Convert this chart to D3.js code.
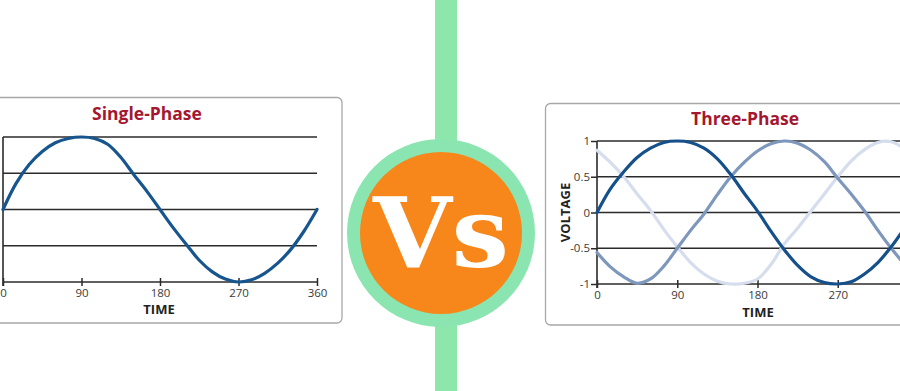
<!DOCTYPE html>
<html>
<head>
<meta charset="utf-8">
<script src="https://cdn.jsdelivr.net/npm/d3@7"></script>
<style>
  html, body { margin: 0; padding: 0; background: #fff; }
  svg { display: block; }
  text { font-family: 'Open Sans', 'Liberation Sans', sans-serif; }
</style>
</head>
<body>
<svg id="chart" width="900" height="391"></svg>
<script>
// Angle samples (degrees) shared by all waves
const angles = [0, 15, 30, 45, 60, 75, 90, 105, 120, 135, 150, 165, 180,
  195, 210, 225, 240, 255, 270, 285, 300, 315, 330, 345, 360];

// Single-phase wave
const singlePhase = [0, 0.36, 0.62, 0.8, 0.92, 0.98, 1, 0.98, 0.9, 0.72, 0.48, 0.25, 0,
  -0.25, -0.48, -0.7, -0.86, -0.96, -1, -0.97, -0.88, -0.74, -0.55, -0.3, 0];

// Three-phase waves
const phaseA = [0, 0.33, 0.57, 0.77, 0.9, 0.98, 1, 0.98, 0.9, 0.75, 0.53, 0.27, 0.02,
  -0.26, -0.52, -0.74, -0.9, -0.98, -1, -0.97, -0.86, -0.7, -0.48, -0.22, 0.03];
const phaseB = [-0.56, -0.76, -0.9, -0.99, -0.93, -0.75, -0.5, -0.25, -0.02, 0.25, 0.5, 0.7, 0.86,
  0.96, 1, 0.97, 0.87, 0.71, 0.48, 0.26, 0.02, -0.25, -0.5, -0.72, -0.87];
const phaseC = [0.87, 0.7, 0.5, 0.26, 0.03, -0.24, -0.48, -0.7, -0.86, -0.96, -1, -0.99, -0.93,
  -0.73, -0.44, -0.22, 0.02, 0.26, 0.5, 0.72, 0.88, 0.98, 0.99, 0.89, 0.72];

const singleTicks = [0, 90, 180, 270, 360];
const threeTicks = [0, 90, 180, 270];
const yTicks = [-1, -0.5, 0, 0.5, 1];
const yTickLabels = ['-1', '-0.5', '0', '0.5', '1'];

const svg = d3.select('#chart');

function drawPanel(opts) {
  const g = svg.append('g').attr('class', 'panel');

  g.append('rect')
    .attr('x', opts.box[0]).attr('y', opts.box[1])
    .attr('width', opts.box[2]).attr('height', opts.box[3])
    .attr('rx', 5)
    .style('fill', '#fff')
    .style('stroke', '#a8a8a8')
    .style('stroke-width', 1.3);

  const x = d3.scaleLinear().domain([0, 360]).range(opts.xRange);
  const y = d3.scaleLinear().domain([-1, 1]).range(opts.yRange);

  // title
  g.append('text')
    .attr('x', opts.titleX).attr('y', opts.titleY)
    .attr('text-anchor', 'middle')
    .style('font-size', '17.5px')
    .style('font-weight', 700)
    .style('fill', '#a5162f')
    .text(opts.title);

  // horizontal grid
  g.append('g').attr('class', 'grid')
    .selectAll('line')
    .data(yTicks)
    .join('line')
    .attr('x1', x(0)).attr('x2', opts.gridEnd)
    .attr('y1', d => y(d)).attr('y2', d => y(d))
    .style('stroke', '#2b2b2b')
    .style('stroke-width', 1.6);

  // y axis line
  g.append('line')
    .attr('x1', x(0)).attr('x2', x(0))
    .attr('y1', y(1)).attr('y2', y(-1) + 4)
    .style('stroke', '#2b2b2b')
    .style('stroke-width', 1.6);

  // x axis
  const xAxis = d3.axisBottom(x).tickValues(opts.xTicks).tickSize(4).tickPadding(3);
  const ax = g.append('g')
    .attr('transform', `translate(0, ${y(-1)})`)
    .call(xAxis);
  ax.select('.domain').remove();
  ax.selectAll('.tick line').attr('y1', -4).style('stroke', '#2b2b2b').style('stroke-width', 1.5);
  ax.selectAll('.tick text')
    .style('font-size', '11.5px')
    .style('fill', '#3a3a3a')
    .style('font-family', "'Open Sans', sans-serif");

  g.append('text')
    .attr('x', opts.timeX).attr('y', opts.timeY)
    .attr('text-anchor', 'middle')
    .style('font-size', '13px')
    .style('font-weight', 700)
    .style('fill', '#222')
    .text('TIME');

  if (opts.yLabels) {
    const yAxis = d3.axisLeft(y).tickValues(yTicks)
      .tickFormat((d, i) => yTickLabels[i]).tickSize(6).tickPadding(1);
    const ay = g.append('g')
      .attr('transform', `translate(${x(0)}, 0)`)
      .call(yAxis);
    ay.select('.domain').remove();
    ay.selectAll('.tick line').style('stroke', '#2b2b2b').style('stroke-width', 1.5);
    ay.selectAll('.tick text')
      .style('font-size', '11.5px')
      .style('fill', '#3a3a3a')
      .style('font-family', "'Open Sans', sans-serif");

    g.append('text')
      .attr('transform', `translate(${opts.voltX}, ${y(0)}) rotate(-90)`)
      .attr('text-anchor', 'middle')
      .attr('dy', '0.35em')
      .style('font-size', '13px')
      .style('font-weight', 700)
      .style('fill', '#222')
      .text('VOLTAGE');
  }

  const line = d3.line()
    .x((d, i) => x(angles[i]))
    .y(d => y(d))
    .curve(d3.curveCatmullRom.alpha(0.5));

  g.append('g').attr('class', 'waves')
    .selectAll('path')
    .data(opts.series)
    .join('path')
    .attr('d', d => line(d.values))
    .style('fill', 'none')
    .style('stroke', d => d.color)
    .style('stroke-width', 3.2)
    .style('stroke-linecap', 'round');
}

drawPanel({
  box: [-10, 97.5, 352, 225.5],
  xRange: [3, 317],
  yRange: [282, 137],
  gridEnd: 317,
  xTicks: singleTicks,
  title: 'Single-Phase',
  titleX: 147, titleY: 120,
  timeX: 159, timeY: 314,
  yLabels: false,
  series: [{ values: singlePhase, color: '#17558f' }]
});

drawPanel({
  box: [545.5, 103.5, 380, 221.5],
  xRange: [597, 918],
  yRange: [284, 141],
  gridEnd: 905,
  xTicks: threeTicks,
  title: 'Three-Phase',
  titleX: 745, titleY: 125,
  timeX: 758, timeY: 317,
  yLabels: true,
  voltX: 565,
  series: [
    { values: phaseC, color: '#d6dded' },
    { values: phaseB, color: '#7d97bd' },
    { values: phaseA, color: '#15508b' }
  ]
});

// Vs badge
const badge = svg.append('g').attr('class', 'badge');
badge.append('rect')
  .attr('x', 435).attr('y', 0)
  .attr('width', 22).attr('height', 391)
  .style('fill', '#8de6aa');
badge.append('circle')
  .attr('cx', 441).attr('cy', 233).attr('r', 94)
  .style('fill', '#8be5b0');
badge.append('circle')
  .attr('cx', 441).attr('cy', 233).attr('r', 81)
  .style('fill', '#f7861b');
badge.append('text')
  .attr('x', 441).attr('y', 267)
  .attr('text-anchor', 'middle')
  .attr('textLength', 136)
  .attr('lengthAdjust', 'spacingAndGlyphs')
  .style('font-family', "'DejaVu Serif', serif")
  .style('font-size', '98px')
  .style('font-weight', 700)
  .style('fill', '#fff')
  .text('Vs');
</script>
</body>
</html>
